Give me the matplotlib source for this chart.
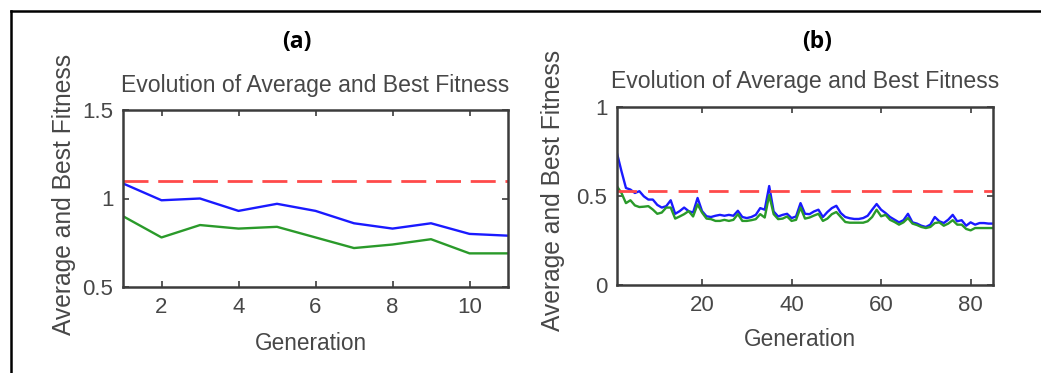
import matplotlib
matplotlib.use("Agg")
import matplotlib.pyplot as plt
from matplotlib.lines import Line2D

# ---- data -------------------------------------------------------------
gen_a = list(range(1, 12))
avg_a = [1.085, 0.99, 1.00, 0.93, 0.97, 0.93, 0.86, 0.83, 0.86, 0.80, 0.79]
best_a = [0.90, 0.78, 0.85, 0.83, 0.84, 0.78, 0.72, 0.74, 0.77, 0.69, 0.69]
ref_a = 1.10

gen_b = list(range(1, 86))
avg_b = [0.74, 0.639, 0.545, 0.536, 0.517, 0.527, 0.498, 0.48, 0.48, 0.45,
         0.435, 0.443, 0.476, 0.40, 0.415, 0.435, 0.415, 0.407, 0.489, 0.415,
         0.386, 0.382, 0.389, 0.394, 0.389, 0.394, 0.389, 0.417, 0.382, 0.376,
         0.382, 0.394, 0.432, 0.423, 0.556, 0.413, 0.385, 0.394, 0.40, 0.376,
         0.385, 0.46, 0.40, 0.398, 0.413, 0.423, 0.382, 0.41, 0.432, 0.445,
         0.404, 0.382, 0.375, 0.371, 0.371, 0.376, 0.389, 0.423, 0.455, 0.423,
         0.404, 0.382, 0.367, 0.352, 0.364, 0.40, 0.352, 0.345, 0.333, 0.326,
         0.339, 0.382, 0.358, 0.348, 0.367, 0.394, 0.358, 0.364, 0.333, 0.352,
         0.339, 0.348, 0.348, 0.345, 0.345]
best_b = [0.554, 0.517, 0.46, 0.476, 0.447, 0.438, 0.44, 0.443, 0.424, 0.40,
          0.407, 0.435, 0.435, 0.373, 0.385, 0.398, 0.415, 0.385, 0.453, 0.407,
          0.373, 0.37, 0.36, 0.36, 0.366, 0.36, 0.366, 0.398, 0.36, 0.36,
          0.364, 0.37, 0.398, 0.379, 0.505, 0.398, 0.37, 0.373, 0.385, 0.36,
          0.366, 0.435, 0.373, 0.379, 0.39, 0.40, 0.36, 0.373, 0.398, 0.41,
          0.382, 0.354, 0.35, 0.35, 0.35, 0.35, 0.358, 0.382, 0.423, 0.386,
          0.394, 0.366, 0.354, 0.339, 0.352, 0.376, 0.345, 0.337, 0.326, 0.32,
          0.326, 0.348, 0.352, 0.333, 0.345, 0.364, 0.339, 0.339, 0.315, 0.307,
          0.32, 0.32, 0.32, 0.32, 0.32]
ref_b = 0.53

xticks_a = [2, 4, 6, 8, 10]
yticks_a = [0.5, 1.0, 1.5]
ytick_labels_a = ["0.5", "1", "1.5"]
xticks_b = [20, 40, 60, 80]
yticks_b = [0.0, 0.5, 1.0]
ytick_labels_b = ["0", "0.5", "1"]

panel_labels = ["(a)", "(b)"]
title = "Evolution of Average and Best Fitness"
xlabel = "Generation"
ylabel = "Average and Best Fitness"

# ---- styling ----------------------------------------------------------
plt.rcParams["font.family"] = ["Liberation Sans", "DejaVu Sans"]
TEXT = "#474747"
AX = "#3c3c3c"
BLUE = "#1a1aff"
GREEN = "#2a9a2a"
RED = "#ff4a4a"

W, H = 1041, 373
fig = plt.figure(figsize=(W / 100, H / 100), dpi=100)


def px_rect(l, t, r, b):
    return [l / W, 1 - b / H, (r - l) / W, (b - t) / H]


def style_axes(ax, xlim, ylim, xt, yt, ytl):
    ax.set_xlim(*xlim)
    ax.set_ylim(*ylim)
    ax.set_xticks(xt)
    ax.set_yticks(yt)
    ax.set_yticklabels(ytl)
    ax.tick_params(direction="in", top=True, right=True, length=4,
                   width=1.2, color=AX, labelsize=16, labelcolor=TEXT, pad=7)
    for s in ax.spines.values():
        s.set_color(AX)
        s.set_linewidth(1.8)


panels = [
    dict(box=(123, 110, 508, 287), x=gen_a, avg=avg_a, best=best_a,
         ref=ref_a, xlim=(1, 11), ylim=(0.5, 1.5), xt=xticks_a, yt=yticks_a,
         ytl=ytick_labels_a, dash=(9, 3.5), title_pad=13, xlab=(311, 343),
         ylab=(64, 54)),
    dict(box=(617, 107, 993, 285), x=gen_b, avg=avg_b, best=best_b,
         ref=ref_b, xlim=(1, 85), ylim=(0, 1), xt=xticks_b, yt=yticks_b,
         ytl=ytick_labels_b, dash=(7, 4), title_pad=14, xlab=(800, 340),
         ylab=(553, 50)),
]

for p in panels:
    l, t, r, b = p["box"]
    ax = fig.add_axes(px_rect(l, t, r, b))
    ax.plot(p["x"], p["avg"], color=BLUE, lw=1.7, solid_joinstyle="round")
    ax.plot(p["x"], p["best"], color=GREEN, lw=1.7, solid_joinstyle="round")
    ax.axhline(p["ref"], color=RED, lw=2.0, dashes=p["dash"])
    style_axes(ax, p["xlim"], p["ylim"], p["xt"], p["yt"], p["ytl"])
    ax.set_title(title, fontsize=16.6, color=TEXT, pad=p["title_pad"])
    ax.set_xlabel(xlabel, fontsize=16.3, color=TEXT)
    ax.xaxis.label.set_va("center")
    xl, yl = p["xlab"]
    ax.xaxis.set_label_coords((xl - l) / (r - l), -(yl - b) / (b - t))
    # rotated y label, anchored by its top end
    xc, ytop = p["ylab"]
    fig.text(xc / W, 1 - ytop / H, ylabel, rotation=90, ha="center",
             va="top", fontsize=17.7, color=TEXT)

# panel letters
for lbl, xc in zip(panel_labels, [297, 817]):
    fig.text(xc / W, 1 - 42 / H, lbl, ha="center", va="center",
             fontsize=16.5, fontweight="bold",
             family=["Open Sans", "DejaVu Sans"], color="black")

# outer frame (top and left edges)
fig.add_artist(Line2D([11 / W, 11 / W], [0, 1 - 11 / H], color="black",
                      lw=1.8, transform=fig.transFigure))
fig.add_artist(Line2D([11 / W, 1], [1 - 11 / H, 1 - 11 / H], color="black",
                      lw=1.8, transform=fig.transFigure))

fig.savefig("out.png", dpi=100, facecolor="white")
